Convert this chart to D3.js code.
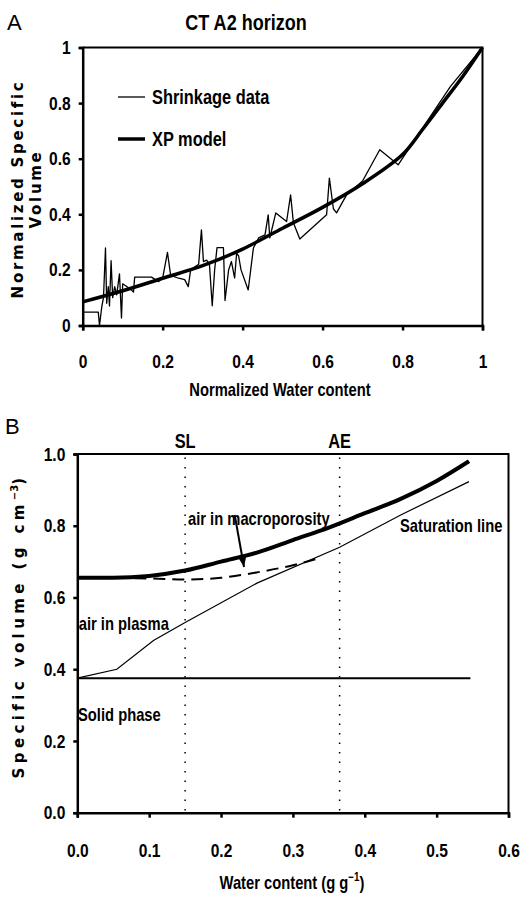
<!DOCTYPE html>
<html>
<head>
<meta charset="utf-8">
<script src="https://cdn.jsdelivr.net/npm/d3@7"></script>
<style>
  body { margin: 0; background: #fff; }
  .narrow { font-family: "Liberation Sans", Arial, sans-serif; font-weight: bold; }
  .wide { font-family: "DejaVu Sans", sans-serif; font-weight: bold; }
  .axis path, .axis line { stroke: #000; stroke-width: 2.5; }
  .axis text { font-family: "Liberation Sans", Arial, sans-serif; font-weight: bold; font-size: 19px; fill: #000; }
</style>
</head>
<body>
<svg id="chart" width="520" height="899"></svg>
<script>
const width = 520;
const height = 899;

// --- Panel A: normalized shrinkage curve ---
const shrinkX = [0, 0.039, 0.042, 0.048, 0.052, 0.057, 0.06, 0.064, 0.067, 0.071, 0.075, 0.08, 0.085, 0.092, 0.097,
  0.1, 0.11, 0.12, 0.127, 0.13, 0.172, 0.19, 0.2, 0.212, 0.22, 0.24, 0.255, 0.264, 0.27, 0.29, 0.297, 0.302, 0.31,
  0.317, 0.324, 0.33, 0.336, 0.352, 0.356, 0.365, 0.372, 0.38, 0.385, 0.39, 0.396, 0.414, 0.427, 0.44, 0.456, 0.464,
  0.468, 0.483, 0.51, 0.52, 0.527, 0.543, 0.61, 0.617, 0.627, 0.635, 0.66, 0.7, 0.743, 0.789, 0.85, 0.92, 1];
const shrinkY = [0.048, 0.048, 0.0, 0.07, 0.1, 0.279, 0.08, 0.14, 0.07, 0.233, 0.1, 0.14, 0.11, 0.186, 0.027,
  0.15, 0.14, 0.13, 0.12, 0.174, 0.174, 0.158, 0.17, 0.263, 0.18, 0.17, 0.165, 0.14, 0.2, 0.22, 0.344, 0.23, 0.235,
  0.22, 0.071, 0.2, 0.28, 0.28, 0.09, 0.2, 0.23, 0.171, 0.26, 0.25, 0.2, 0.128, 0.279, 0.315, 0.326, 0.398,
  0.315, 0.405, 0.374, 0.47, 0.37, 0.311, 0.398, 0.53, 0.42, 0.405, 0.47, 0.52, 0.632, 0.578, 0.71, 0.86, 1];
const modelX = [0, 0.1, 0.2, 0.3, 0.4, 0.5, 0.6, 0.7, 0.8, 0.85, 0.9, 0.95, 1];
const modelY = [0.085, 0.125, 0.17, 0.215, 0.275, 0.35, 0.425, 0.51, 0.615, 0.705, 0.8, 0.895, 1];
const ticksA = [0, 0.2, 0.4, 0.6, 0.8, 1];

// --- Panel B: specific volume vs water content ---
const curveX = [0, 0.05, 0.1, 0.15, 0.2, 0.25, 0.3, 0.35, 0.4, 0.45, 0.5, 0.545];
const curveY = [0.655, 0.655, 0.66, 0.675, 0.7, 0.725, 0.76, 0.795, 0.835, 0.875, 0.925, 0.98];
const satX = [0, 0.055, 0.106, 0.15, 0.25, 0.365, 0.45, 0.545];
const satY = [0.375, 0.4, 0.48, 0.53, 0.64, 0.74, 0.83, 0.923];
const dashX = [0, 0.1, 0.15, 0.2, 0.25, 0.3, 0.332];
const dashY = [0.655, 0.653, 0.65, 0.655, 0.67, 0.69, 0.707];
const solidX = [0, 0.547];
const solidY = 0.375;
const limits = [{ name: "SL", x: 0.15 }, { name: "AE", x: 0.365 }];
const ticksBx = [0, 0.1, 0.2, 0.3, 0.4, 0.5, 0.6];
const ticksBy = [0, 0.2, 0.4, 0.6, 0.8, 1.0];

const svg = d3.select("#chart");

// squeeze text horizontally (narrow bold look)
function narrow(sel, f = 0.82) {
  sel.each(function () {
    const t = d3.select(this);
    const x = +t.attr("x") || 0, y = +t.attr("y") || 0;
    t.attr("x", 0).attr("y", 0)
      .attr("transform", `translate(${x},${y}) scale(${f},1)`);
  });
}

// ===== PANEL A =====
const xA = d3.scaleLinear().domain([0, 1]).range([82.7, 482.5]);
const yA = d3.scaleLinear().domain([0, 1]).range([325.5, 47.5]);

svg.append("text").attr("x", 7).attr("y", 30)
  .attr("font-family", "Liberation Sans, sans-serif").attr("font-size", 22).text("A");

svg.append("text").attr("class", "narrow").attr("x", 246).attr("y", 30)
  .attr("text-anchor", "middle").attr("font-size", 22).text("CT A2 horizon");

// frame top/right
svg.append("path")
  .attr("d", `M${xA(0)},${yA(1)}H${xA(1)}V${yA(0)}`)
  .attr("fill", "none").attr("stroke", "#000").attr("stroke-width", 2);

svg.append("g").attr("class", "axis")
  .attr("transform", `translate(0,${yA(0)})`)
  .call(d3.axisBottom(xA).tickValues(ticksA).tickSize(5).tickPadding(24).tickFormat(d => String(d)));

svg.append("g").attr("class", "axis")
  .attr("transform", `translate(${xA(0)},0)`)
  .call(d3.axisLeft(yA).tickValues(ticksA).tickSize(4).tickPadding(8).tickFormat(d => String(d)));

svg.append("text").attr("class", "narrow").attr("x", 280).attr("y", 396)
  .attr("text-anchor", "middle").attr("font-size", 18).text("Normalized Water content");

svg.append("text").attr("class", "wide")
  .attr("transform", "translate(23,189) rotate(-90)")
  .attr("text-anchor", "middle").attr("font-size", 15).attr("letter-spacing", 2.7)
  .text("Normalized Specific");
svg.append("text").attr("class", "wide")
  .attr("transform", "translate(41,189) rotate(-90)")
  .attr("text-anchor", "middle").attr("font-size", 15).attr("letter-spacing", 2.7)
  .text("Volume");

const lineA = d3.line().x(d => xA(d[0])).y(d => yA(d[1]));

svg.append("path")
  .datum(shrinkX.map((x, i) => [x, shrinkY[i]]))
  .attr("d", lineA)
  .attr("fill", "none").attr("stroke", "#000").attr("stroke-width", 1.3)
  .attr("stroke-linejoin", "round");

svg.append("path")
  .datum(modelX.map((x, i) => [x, modelY[i]]))
  .attr("d", lineA.curve(d3.curveCatmullRom))
  .attr("fill", "none").attr("stroke", "#000").attr("stroke-width", 3.5);

// legend
const legend = svg.append("g");
legend.append("line").attr("x1", 118).attr("x2", 145).attr("y1", 97).attr("y2", 97)
  .attr("stroke", "#000").attr("stroke-width", 1.3);
legend.append("text").attr("class", "narrow").attr("x", 152).attr("y", 104)
  .attr("font-size", 20).text("Shrinkage data");
legend.append("line").attr("x1", 118).attr("x2", 145).attr("y1", 139).attr("y2", 139)
  .attr("stroke", "#000").attr("stroke-width", 3.5);
legend.append("text").attr("class", "narrow").attr("x", 152).attr("y", 146)
  .attr("font-size", 20).text("XP model");

// ===== PANEL B =====
const xB = d3.scaleLinear().domain([0, 0.6]).range([77.3, 508.5]);
const yB = d3.scaleLinear().domain([0, 1]).range([812.7, 454]);

svg.append("text").attr("x", 5).attr("y", 434)
  .attr("font-family", "Liberation Sans, sans-serif").attr("font-size", 22).text("B");

svg.append("path")
  .attr("d", `M${xB(0)},${yB(1)}H${xB(0.6)}V${yB(0)}`)
  .attr("fill", "none").attr("stroke", "#000").attr("stroke-width", 2);

svg.append("g").attr("class", "axis")
  .attr("transform", `translate(0,${yB(0)})`)
  .call(d3.axisBottom(xB).tickValues(ticksBx).tickSize(5).tickPadding(26).tickFormat(d3.format(".1f")));

svg.append("g").attr("class", "axis")
  .attr("transform", `translate(${xB(0)},0)`)
  .call(d3.axisLeft(yB).tickValues(ticksBy).tickSize(4).tickPadding(8).tickFormat(d3.format(".1f")));

const xt = svg.append("text").attr("class", "narrow").attr("x", 292).attr("y", 889)
  .attr("text-anchor", "middle").attr("font-size", 18);
xt.append("tspan").text("Water content (g g");
xt.append("tspan").attr("dy", -8).attr("font-size", 12).text("\u22121");
xt.append("tspan").attr("dy", 8).text(")");

const yt = svg.append("text").attr("class", "wide")
  .attr("transform", "translate(24,626) rotate(-90)")
  .attr("text-anchor", "middle").attr("font-size", 15).attr("letter-spacing", 4.4);
yt.append("tspan").text("Specific volume (g cm");
yt.append("tspan").attr("dy", -6).attr("font-size", 10).attr("letter-spacing", 0).text("\u22123");
yt.append("tspan").attr("dy", 6).text(")");

// limit lines
limits.forEach(l => {
  svg.append("line")
    .attr("x1", xB(l.x)).attr("x2", xB(l.x)).attr("y1", yB(0.99)).attr("y2", yB(0))
    .attr("stroke", "#000").attr("stroke-width", 1.5).attr("stroke-dasharray", "1.5,8");
  svg.append("text").attr("class", "narrow").attr("x", xB(l.x)).attr("y", 448)
    .attr("text-anchor", "middle").attr("font-size", 20).text(l.name);
});

const lineB = d3.line().x(d => xB(d[0])).y(d => yB(d[1]));

svg.append("path")
  .datum(solidX.map(x => [x, solidY]))
  .attr("d", lineB)
  .attr("stroke", "#000").attr("stroke-width", 2);

svg.append("path")
  .datum(satX.map((x, i) => [x, satY[i]]))
  .attr("d", lineB)
  .attr("fill", "none").attr("stroke", "#000").attr("stroke-width", 1.2);

svg.append("path")
  .datum(dashX.map((x, i) => [x, dashY[i]]))
  .attr("d", d3.line().x(d => xB(d[0])).y(d => yB(d[1])).curve(d3.curveMonotoneX))
  .attr("fill", "none").attr("stroke", "#000").attr("stroke-width", 2)
  .attr("stroke-dasharray", "12,7");

svg.append("path")
  .datum(curveX.map((x, i) => [x, curveY[i]]))
  .attr("d", d3.line().x(d => xB(d[0])).y(d => yB(d[1])).curve(d3.curveMonotoneX))
  .attr("fill", "none").attr("stroke", "#000").attr("stroke-width", 4);

// arrow pointing to air in macroporosity
const a0 = [xB(0.219), yB(0.83)], a1 = [xB(0.232), yB(0.685)];
svg.append("line").attr("x1", a0[0]).attr("y1", a0[1]).attr("x2", a1[0]).attr("y2", a1[1])
  .attr("stroke", "#000").attr("stroke-width", 2);
const ang = Math.atan2(a1[1] - a0[1], a1[0] - a0[0]);
const hl = 10, hw = 4;
const bx = a1[0] - hl * Math.cos(ang), by = a1[1] - hl * Math.sin(ang);
svg.append("path")
  .attr("d", `M${a1[0]},${a1[1]}L${bx + hw * Math.sin(ang)},${by - hw * Math.cos(ang)}L${bx - hw * Math.sin(ang)},${by + hw * Math.cos(ang)}Z`)
  .attr("fill", "#000");

const labelsB = [
  { t: "air in macroporosity", x: 0.154, y: 0.803 },
  { t: "Saturation line", x: 0.449, y: 0.782 },
  { t: "air in plasma", x: 0.002, y: 0.51 },
  { t: "Solid phase", x: 0.001, y: 0.257 }
];
labelsB.forEach(l => {
  svg.append("text").attr("class", "narrow").attr("x", xB(l.x)).attr("y", yB(l.y))
    .attr("font-size", 18).text(l.t);
});

narrow(svg.selectAll("text.narrow"));
narrow(svg.selectAll(".axis text"));
</script>
</body>
</html>
